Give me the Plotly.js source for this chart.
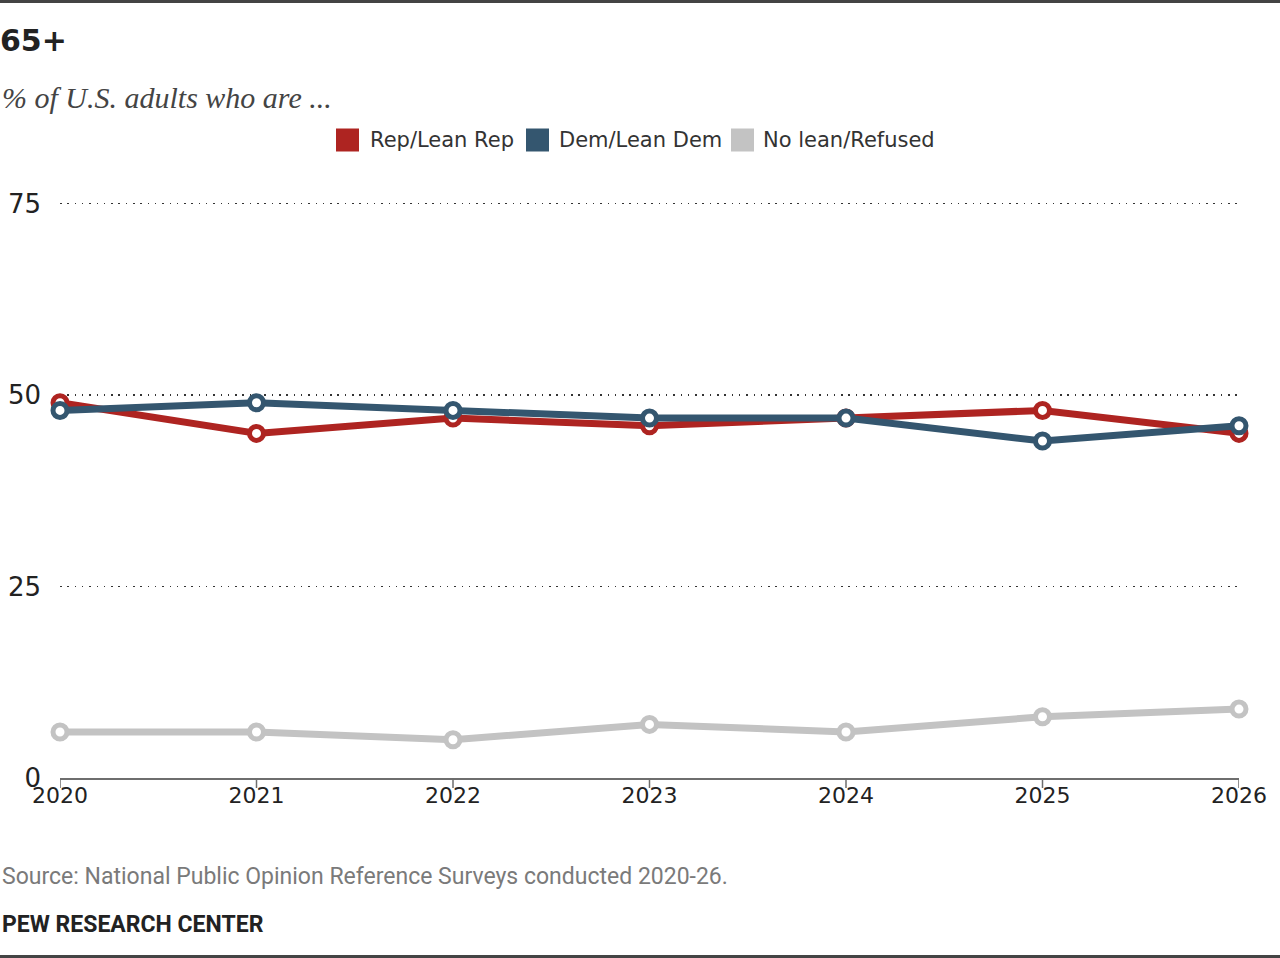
<!DOCTYPE html>
<html>
<head>
<meta charset="utf-8">
<script src="https://cdn.plot.ly/plotly-3.0.1.min.js"></script>
<style>
  html, body { margin: 0; padding: 0; background: #fff; }
  #chart { width: 1280px; height: 958px; }
</style>
</head>
<body>
<div id="chart"></div>
<script>
// Party identification among adults 65 and older, 2020-2026
const years = [2020, 2021, 2022, 2023, 2024, 2025, 2026];
const seriesNames = ["Rep/Lean Rep", "Dem/Lean Dem", "No lean/Refused"];
const repValues = [49, 45, 47, 46, 47, 48, 45];
const demValues = [48, 49, 48, 47, 47, 44, 46];
const noLeanValues = [6, 6, 5, 7, 6, 8, 9];
const yTicks = [0, 25, 50, 75];

const titleText = "65+";
const subtitleText = "% of U.S. adults who are ...";
const sourceText = "Source: National Public Opinion Reference Surveys conducted 2020-26.";
const creditText = "PEW RESEARCH CENTER";

const colors = ["#AE2421", "#34566F", "#C3C3C3"];

// Plot area geometry (pixels); y range runs a little past 75 so its gridline shows
const W = 1280, H = 958;
const M = { l: 60, r: 41, t: 196, b: 180 };
const plotW = W - M.l - M.r;
const plotH = H - M.t - M.b;
const px = (x) => (x - M.l) / plotW;          // pixel x -> paper x
const py = (y) => (H - M.b - y) / plotH;      // pixel y -> paper y

function seriesTrace(values, color, name) {
  return {
    type: "scatter",
    mode: "lines+markers",
    x: years,
    y: values,
    name: name,
    showlegend: false,
    cliponaxis: false,
    hoverinfo: "skip",
    line: { color: color, width: 7 },
    marker: {
      symbol: "circle",
      size: 14,
      color: "#ffffff",
      line: { color: color, width: 5 }
    }
  };
}

const traces = [
  seriesTrace(noLeanValues, colors[2], seriesNames[2]),
  seriesTrace(repValues, colors[0], seriesNames[0]),
  seriesTrace(demValues, colors[1], seriesNames[1])
];

// Legend: square swatches with labels across the top
const swatchLeft = [336, 526, 731];
const labelLeft = [368, 557, 761];
const legendY = 140;
const swatch = 23;

const shapes = [
  // rules at top and bottom of the graphic
  { type: "line", xref: "paper", yref: "paper", x0: px(0), x1: px(W), y0: py(1.5), y1: py(1.5),
    line: { color: "#444444", width: 3 } },
  { type: "line", xref: "paper", yref: "paper", x0: px(0), x1: px(W), y0: py(956.5), y1: py(956.5),
    line: { color: "#444444", width: 3 } }
];
// downward tick marks under each year on the baseline
years.forEach((yr) => {
  shapes.push({
    type: "line", xref: "x", yref: "paper",
    x0: yr, x1: yr, y0: py(778), y1: py(788),
    line: { color: "#6e6e6e", width: 1.5 }
  });
});
seriesNames.forEach((n, i) => {
  shapes.push({
    type: "rect", xref: "paper", yref: "paper",
    x0: px(swatchLeft[i]), x1: px(swatchLeft[i] + swatch),
    y0: py(legendY - swatch / 2), y1: py(legendY + swatch / 2),
    fillcolor: colors[i], line: { width: 0 }
  });
});

const annotations = [
  { text: subtitleText, xref: "paper", yref: "paper", x: px(0), y: py(98),
    xanchor: "left", yanchor: "middle", showarrow: false,
    font: { family: "Liberation Serif, serif", size: 30, color: "#444444", style: "italic" } },
  { text: sourceText, xref: "paper", yref: "paper", x: px(0), y: py(876),
    xanchor: "left", yanchor: "middle", showarrow: false,
    font: { family: "Roboto, sans-serif", size: 23, color: "#7a7a7a" } },
  { text: creditText, xref: "paper", yref: "paper", x: px(0), y: py(924),
    xanchor: "left", yanchor: "middle", showarrow: false,
    font: { family: "Roboto, sans-serif", size: 23, color: "#222222", weight: 700 } }
];
seriesNames.forEach((n, i) => {
  annotations.push({
    text: n, xref: "paper", yref: "paper", x: px(labelLeft[i]), y: py(legendY),
    xanchor: "left", yanchor: "middle", showarrow: false,
    font: { family: "DejaVu Sans, sans-serif", size: 21, color: "#333333" }
  });
});

const layout = {
  width: W,
  height: H,
  margin: M,
  paper_bgcolor: "#ffffff",
  plot_bgcolor: "#ffffff",
  showlegend: false,
  title: {
    text: titleText,
    x: 0, xref: "container", xanchor: "left",
    y: 1 - 40 / H, yref: "container", yanchor: "middle",
    font: { family: "DejaVu Sans, sans-serif", size: 30, color: "#222222", weight: 700 }
  },
  xaxis: {
    range: [2020, 2026],
    tickvals: years,
    ticktext: years.map(String),
    showgrid: false,
    zeroline: false,
    showline: true,
    linecolor: "#6e6e6e",
    linewidth: 1.5,
    ticks: "",
    ticklabelstandoff: -3,
    tickfont: { family: "DejaVu Sans, sans-serif", size: 22, color: "#222222" },
    fixedrange: true
  },
  yaxis: {
    range: [0, 76],
    tickvals: yTicks,
    ticktext: yTicks.map(String),
    showgrid: true,
    gridcolor: "#333333",
    gridwidth: 1.5,
    griddash: "1.5px,5.8px",
    zeroline: false,
    showline: false,
    ticks: "",
    ticklabelstandoff: 18,
    tickfont: { family: "DejaVu Sans, sans-serif", size: 26, color: "#222222" },
    fixedrange: true
  },
  shapes: shapes,
  annotations: annotations
};

Plotly.newPlot("chart", traces, layout, { displayModeBar: false, staticPlot: true });
</script>
</body>
</html>
